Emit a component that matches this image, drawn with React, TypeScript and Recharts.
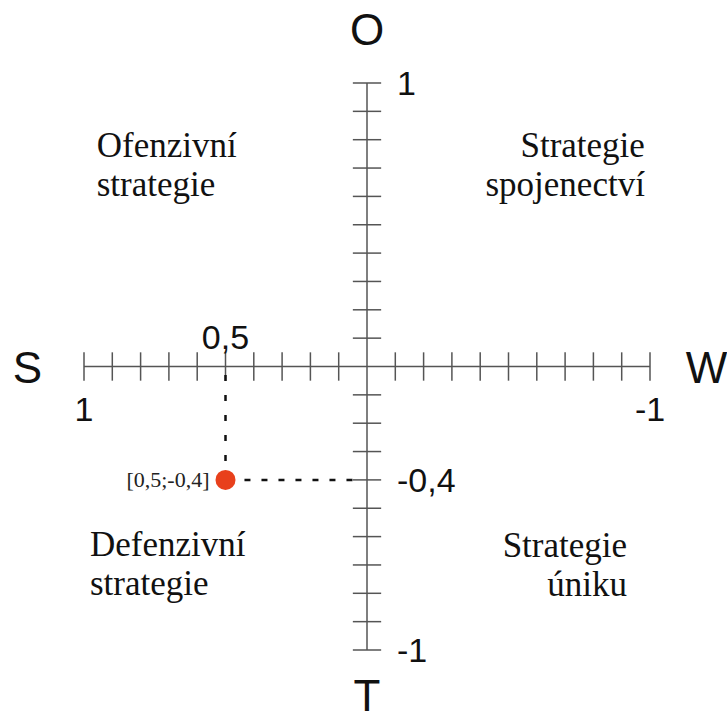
import { ScatterChart, Scatter, XAxis, YAxis, ReferenceLine, ReferenceDot } from "recharts";

// hodnoty os
const xTicks = [1, 0.9, 0.8, 0.7, 0.6, 0.5, 0.4, 0.3, 0.2, 0.1, -0.1, -0.2, -0.3, -0.4, -0.5, -0.6, -0.7, -0.8, -0.9, -1];
const yTicks = [1, 0.9, 0.8, 0.7, 0.6, 0.5, 0.4, 0.3, 0.2, 0.1, -0.1, -0.2, -0.3, -0.4, -0.5, -0.6, -0.7, -0.8, -0.9, -1];

const xLabelsBelow = [1, -1];
const xLabelsBelowText = ["1", "-1"];
const xLabelsAbove = [0.5];
const xLabelsAboveText = ["0,5"];
const yLabels = [1, -0.4, -1];
const yLabelsText = ["1", "-0,4", "-1"];

const axisNames = ["S", "W", "O", "T"];
const quadrantTexts = [
  ["Ofenzivní", "strategie"],
  ["Strategie", "spojenectví"],
  ["Defenzivní", "strategie"],
  ["Strategie", "úniku"],
];

// výsledná pozice firmy
const point = [{ x: 0.5, y: -0.4 }];
const pointText = "[0,5;-0,4]";

const SANS = "'Liberation Sans', Arial, sans-serif";
const SERIF = "'Liberation Serif', 'Times New Roman', serif";
const AXIS = "#555";
const TICK = 0.05;

type TxtOpts = { dx?: number; dy?: number; anchor?: "start" | "middle" | "end"; size: number; family: string; lh?: number; fill?: string };

function txt(lines: string[], o: TxtOpts) {
  return (p: any) => (
    <text
      x={p.cx + (o.dx ?? 0)}
      y={p.cy + (o.dy ?? 0)}
      textAnchor={o.anchor ?? "middle"}
      fontFamily={o.family}
      fontSize={o.size}
      fill={o.fill ?? "#111"}
    >
      {lines.map((l, i) => (
        <tspan key={i} x={p.cx + (o.dx ?? 0)} dy={i === 0 ? 0 : o.lh ?? 0}>
          {l}
        </tspan>
      ))}
    </text>
  );
}

export default function App() {
  const namePos = [
    { x: 1.2, y: 0 },
    { x: -1.2, y: 0 },
    { x: 0, y: 1.19 },
    { x: 0, y: -1.16 },
  ];
  const quadPos = [
    { x: 0.955, y: 0.74, anchor: "start" as const },
    { x: -0.982, y: 0.74, anchor: "end" as const },
    { x: 0.979, y: -0.67, anchor: "start" as const },
    { x: -0.919, y: -0.672, anchor: "end" as const },
  ];
  return (
    <div style={{ position: "absolute", left: 0, top: 0, background: "#fff" }}>
      <ScatterChart width={727} height={723} margin={{ top: 83, right: 77, bottom: 73, left: 84 }}>
        <XAxis type="number" dataKey="x" domain={[-1, 1]} reversed hide />
        <YAxis type="number" dataKey="y" domain={[-1, 1]} hide />

        <ReferenceLine y={0} stroke={AXIS} strokeWidth={1.5} />
        <ReferenceLine x={0} stroke={AXIS} strokeWidth={1.5} />
        {xTicks.map((t) => (
          <ReferenceLine key={`xt${t}`} segment={[{ x: t, y: -TICK }, { x: t, y: TICK }]} stroke={AXIS} strokeWidth={1.5} />
        ))}
        {yTicks.map((t) => (
          <ReferenceLine key={`yt${t}`} segment={[{ x: TICK, y: t }, { x: -TICK, y: t }]} stroke={AXIS} strokeWidth={1.5} />
        ))}

        {/* pomocné čáry k bodu */}
        <ReferenceLine
          segment={[{ x: point[0].x, y: -0.03 }, { x: point[0].x, y: -0.334 }]}
          stroke="#111"
          strokeWidth={2.5}
          strokeDasharray="6 14"
        />
        <ReferenceLine
          segment={[{ x: 0.433, y: point[0].y }, { x: 0.05, y: point[0].y }]}
          stroke="#111"
          strokeWidth={2.5}
          strokeDasharray="6 11"
        />

        {xLabelsBelow.map((v, i) => (
          <ReferenceDot key={`xb${v}`} x={v} y={0} r={0} ifOverflow="visible"
            shape={txt([xLabelsBelowText[i]], { dy: 54, size: 34, family: SANS })} />
        ))}
        {xLabelsAbove.map((v, i) => (
          <ReferenceDot key={`xa${v}`} x={v} y={0} r={0} ifOverflow="visible"
            shape={txt([xLabelsAboveText[i]], { dy: -18, size: 34, family: SANS })} />
        ))}
        {yLabels.map((v, i) => (
          <ReferenceDot key={`yl${v}`} x={0} y={v} r={0} ifOverflow="visible"
            shape={txt([yLabelsText[i]], { dx: 30, dy: 12, anchor: "start", size: 34, family: SANS })} />
        ))}

        {axisNames.map((n, i) => (
          <ReferenceDot key={n} x={namePos[i].x} y={namePos[i].y} r={0} ifOverflow="visible"
            shape={txt([n], { dy: 16, size: 44, family: SANS })} />
        ))}

        {quadrantTexts.map((lines, i) => (
          <ReferenceDot key={`q${i}`} x={quadPos[i].x} y={quadPos[i].y} r={0} ifOverflow="visible"
            shape={txt(lines, { anchor: quadPos[i].anchor, size: 35, family: SERIF, lh: 39 })} />
        ))}

        <Scatter
          data={point}
          isAnimationActive={false}
          shape={(p: any) => (
            <g>
              <circle cx={p.cx} cy={p.cy} r={10} fill="#e8401c" />
              <text x={p.cx - 16} y={p.cy + 7} textAnchor="end" fontFamily={SERIF} fontSize={22} fill="#222">
                {pointText}
              </text>
            </g>
          )}
        />
      </ScatterChart>
    </div>
  );
}
